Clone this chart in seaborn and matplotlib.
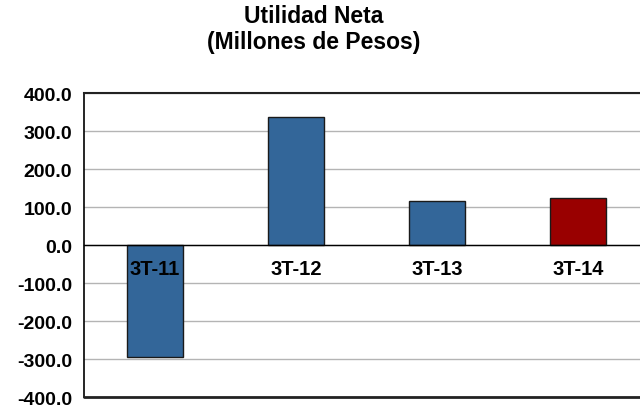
import matplotlib
matplotlib.use('Agg')
import matplotlib.pyplot as plt
import seaborn as sns
import pandas as pd
from matplotlib.ticker import FormatStrFormatter, FixedLocator

# datos
trimestres = ['3T-11', '3T-12', '3T-13', '3T-14']
utilidad = [-295.0, 338.0, 116.0, 123.0]
colores = ['#336699', '#336699', '#336699', '#990000']

df = pd.DataFrame({'trimestre': trimestres, 'utilidad': utilidad})

sns.set_style('white')
plt.rcParams['font.family'] = ['Liberation Sans', 'DejaVu Sans']

fig = plt.figure(figsize=(6.4, 4.06), dpi=100)
ax = fig.add_axes([0.132, 0.0197, 0.881, 0.7485])

sns.barplot(data=df, x='trimestre', y='utilidad', hue='trimestre',
            palette=colores, legend=False, width=0.4,
            edgecolor='#1a1a1a', linewidth=1.0, saturation=1, ax=ax)

ax.set_ylim(-400, 400)
ax.set_xlim(-0.5, 3.5)
ax.set_yticks(range(-400, 401, 100))
ax.yaxis.set_major_formatter(FormatStrFormatter('%.1f'))
ax.set_axisbelow(True)
ax.yaxis.grid(True, color='#b4b4b4', linewidth=1.0)
ax.xaxis.grid(False)

# eje x en el cero
ax.spines['bottom'].set_position(('data', 0))
ax.spines['bottom'].set_color('black')
ax.spines['bottom'].set_linewidth(1.0)
ax.spines['left'].set_color('black')
ax.spines['left'].set_linewidth(1.2)
ax.spines['top'].set_color('#222222')
ax.spines['top'].set_linewidth(1.5)
ax.spines['right'].set_visible(False)
ax.axhline(-400, color='#222222', linewidth=2.0, clip_on=False, zorder=3)

ax.xaxis.set_minor_locator(FixedLocator([0.5, 1.5, 2.5]))
ax.tick_params(axis='x', which='major', length=0, pad=10, labelsize=14.5, labelcolor='black')
ax.tick_params(axis='x', which='minor', length=4, color='#999999', direction='out')
ax.tick_params(axis='y', length=6, color='#999999', direction='out', labelsize=14,
               labelcolor='black', pad=3)
ax.xaxis.set_zorder(5)
for lbl in ax.get_xticklabels() + ax.get_yticklabels():
    lbl.set_fontweight('bold')
ax.set_xlabel('')
ax.set_ylabel('')

fig.text(0.49, 0.988, 'Utilidad Neta\n(Millones de Pesos)', ha='center', va='top',
         fontsize=16.5, fontweight='bold', linespacing=1.2, color='black')

fig.savefig('out.png', dpi=100)
